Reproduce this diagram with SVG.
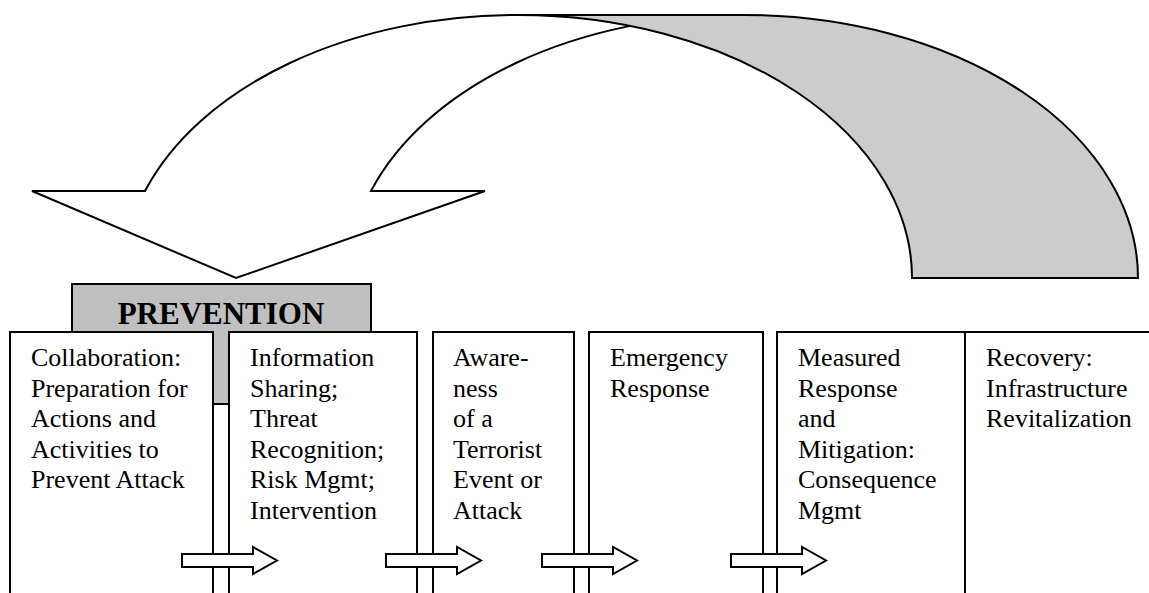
<svg xmlns="http://www.w3.org/2000/svg" width="1149" height="593" viewBox="0 0 1149 593">
  <style>
    .ln { stroke: #000; stroke-width: 2; stroke-linejoin: miter; }
    .box { fill: #fff; stroke: #000; stroke-width: 2; }
    .lbl { font-family: "Liberation Serif", "Times New Roman", serif; font-size: 26px; fill: #000; }
    .head { font-family: "Liberation Serif", "Times New Roman", serif; font-size: 31px; font-weight: bold; fill: #000; }
  </style>
  <defs>
    <!-- block arrow between phases, origin at the tail centre -->
    <path id="step" d="M0,-6.5 H71 V-13.5 L95,0 L71,13.5 V6.5 H0 Z" fill="#fff" stroke="#000" stroke-width="2"/>
  </defs>
  <rect width="1149" height="593" fill="#fff"/>

  <!-- curved return arrow from recovery back to prevention -->
  <g id="return-arrow">
    <path class="ln" fill="#fff" d="M32,191 L145,191 A394,263 0 0 1 518,15 L744,15 A394,263 0 0 0 371,191 L485,191 L236,278 Z"/>
    <path class="ln" fill="#cccccc" d="M518,15 L744,15 A394,263 0 0 1 1138,278 L912,278 A394,263 0 0 0 518,15 Z"/>
  </g>

  <g id="prevention">
    <rect x="72" y="284" width="299" height="120" fill="#c0c0c0" stroke="#000" stroke-width="2"/>
    <text class="head" x="221" y="324" text-anchor="middle">PREVENTION</text>
  </g>

  <g id="collaboration">
    <rect class="box" x="10" y="332" width="203" height="280"/>
    <text class="lbl" x="31" y="366">Collaboration:<tspan x="31" dy="30.6">Preparation for</tspan><tspan x="31" dy="30.6">Actions and</tspan><tspan x="31" dy="30.6">Activities to</tspan><tspan x="31" dy="30.6">Prevent Attack</tspan></text>
  </g>

  <g id="information-sharing">
    <rect class="box" x="229" y="332" width="188" height="280"/>
    <text class="lbl" x="250" y="366">Information<tspan x="250" dy="30.6">Sharing;</tspan><tspan x="250" dy="30.6">Threat</tspan><tspan x="250" dy="30.6">Recognition;</tspan><tspan x="250" dy="30.6">Risk Mgmt;</tspan><tspan x="250" dy="30.6">Intervention</tspan></text>
  </g>

  <g id="awareness">
    <rect class="box" x="433" y="332" width="141" height="280"/>
    <text class="lbl" x="453" y="366">Aware-<tspan x="453" dy="30.6">ness</tspan><tspan x="453" dy="30.6">of a</tspan><tspan x="453" dy="30.6">Terrorist</tspan><tspan x="453" dy="30.6">Event or</tspan><tspan x="453" dy="30.6">Attack</tspan></text>
  </g>

  <g id="emergency-response">
    <rect class="box" x="589" y="332" width="174" height="280"/>
    <text class="lbl" x="610" y="366">Emergency<tspan x="610" dy="30.6">Response</tspan></text>
  </g>

  <g id="mitigation">
    <rect class="box" x="777" y="332" width="188" height="280"/>
    <text class="lbl" x="798" y="366">Measured<tspan x="798" dy="30.6">Response</tspan><tspan x="798" dy="30.6">and</tspan><tspan x="798" dy="30.6">Mitigation:</tspan><tspan x="798" dy="30.6">Consequence</tspan><tspan x="798" dy="30.6">Mgmt</tspan></text>
  </g>

  <g id="recovery">
    <rect class="box" x="965" y="332" width="200" height="280"/>
    <text class="lbl" x="986" y="366">Recovery:<tspan x="986" dy="30.6">Infrastructure</tspan><tspan x="986" dy="30.6">Revitalization</tspan></text>
  </g>

  <g id="connectors">
    <use href="#step" transform="translate(182,560.5)"/>
    <use href="#step" transform="translate(386,560.5)"/>
    <use href="#step" transform="translate(542,560.5)"/>
    <use href="#step" transform="translate(731,560.5)"/>
  </g>
</svg>
